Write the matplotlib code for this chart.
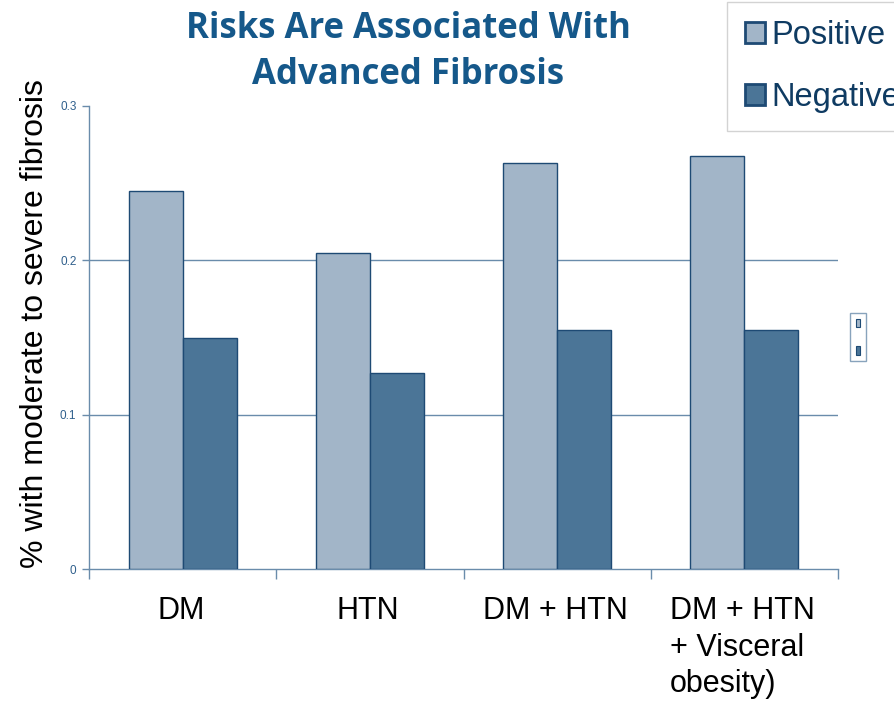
import numpy as np
import matplotlib
matplotlib.use('Agg')
from matplotlib import pyplot as plt
from matplotlib.patches import Patch

categories = ['DM', 'HTN', 'DM + HTN', 'DM + HTN\n+ Visceral\nobesity)']
positive = [0.245, 0.205, 0.263, 0.2675]
negative = [0.1495, 0.127, 0.155, 0.155]
yticks = [0, 0.1, 0.2, 0.3]
ytick_labels = ['0', '0.1', '0.2', '0.3']
title_lines = ['Risks Are Associated With', 'Advanced Fibrosis']

pos_color = '#a2b5c8'
neg_color = '#4b7597'
edge = '#1e4a74'
axis_color = '#6a8cab'
title_color = '#15588a'

plt.rcParams['font.family'] = ['Liberation Sans', 'DejaVu Sans']

fig = plt.figure(figsize=(8.94, 7.03), dpi=100)
ax = fig.add_axes([89 / 894, 1 - 569 / 703, 749 / 894, 463 / 703])

x = np.arange(len(categories))
w = 0.289
ax.bar(x - w / 2, positive, w, color=pos_color, edgecolor=edge, linewidth=1, zorder=3)
ax.bar(x + w / 2, negative, w, color=neg_color, edgecolor=edge, linewidth=1, zorder=3)

ax.set_xlim(-0.5, len(categories) - 0.5)
ax.set_ylim(0, 0.3)

# gridlines only at the interior ticks
for yv in yticks[1:-1]:
    ax.axhline(yv, color=axis_color, lw=1, zorder=1)

ax.set_yticks(yticks)
ax.set_yticklabels(ytick_labels)
ax.tick_params(axis='y', colors=axis_color, labelcolor='#2f5f8c', labelsize=8.5,
               length=5, width=1, pad=4)

# category boundaries carry the tick marks, labels sit at the bar groups
ax.set_xticks(np.arange(len(categories) + 1) - 0.5)
ax.set_xticklabels([])
ax.tick_params(axis='x', colors=axis_color, length=7, width=1)
for xi, lab in zip(x, categories):
    ax.text(xi - 0.01, -0.0175, lab, ha='center', va='top', fontsize=22,
            multialignment='left', linespacing=1.29, color='black')

for s in ['top', 'right']:
    ax.spines[s].set_visible(False)
for s in ['left', 'bottom']:
    ax.spines[s].set_color(axis_color)
    ax.spines[s].set_linewidth(1)

fig.text(35 / 894, 1 - 324 / 703, '% with moderate to severe fibrosis',
         rotation=90, ha='center', va='center', fontsize=23, color='black')

for yb, line in zip([38, 84], title_lines):
    fig.text(408 / 894, 1 - yb / 703, line, ha='center', va='baseline',
             fontsize=25, fontweight='bold', family=['Open Sans', 'DejaVu Sans'],
             color=title_color)

handles = [Patch(facecolor=pos_color, edgecolor=edge, linewidth=2),
           Patch(facecolor=neg_color, edgecolor=edge, linewidth=2)]
leg = fig.legend(handles, ['Positive', 'Negative'], loc='upper left',
                 bbox_to_anchor=(727 / 894, 1 - 2 / 703), fontsize=23.5,
                 frameon=True, fancybox=False, handlelength=0.6, handleheight=0.6,
                 handletextpad=0.2, labelspacing=0.95, borderpad=0.55,
                 borderaxespad=0)
leg.get_frame().set_edgecolor('#c8c8c8')
leg.get_frame().set_linewidth(1)
for t in leg.get_texts():
    t.set_color('#0f3b62')

# tiny leftover legend on the right edge of the plot area
mini = fig.legend([Patch(facecolor=pos_color, edgecolor=edge, linewidth=0.8),
                   Patch(facecolor=neg_color, edgecolor=edge, linewidth=0.8)],
                  ['', ''], loc='upper left', bbox_to_anchor=(850 / 894, 1 - 313 / 703),
                  fontsize=6, frameon=True, fancybox=False, handlelength=0.5,
                  handleheight=1.2, handletextpad=0, labelspacing=2.2,
                  borderpad=0.7, borderaxespad=0)
mini.get_frame().set_edgecolor(axis_color)
mini.get_frame().set_linewidth(1)

fig.savefig('out.png', dpi=100)
